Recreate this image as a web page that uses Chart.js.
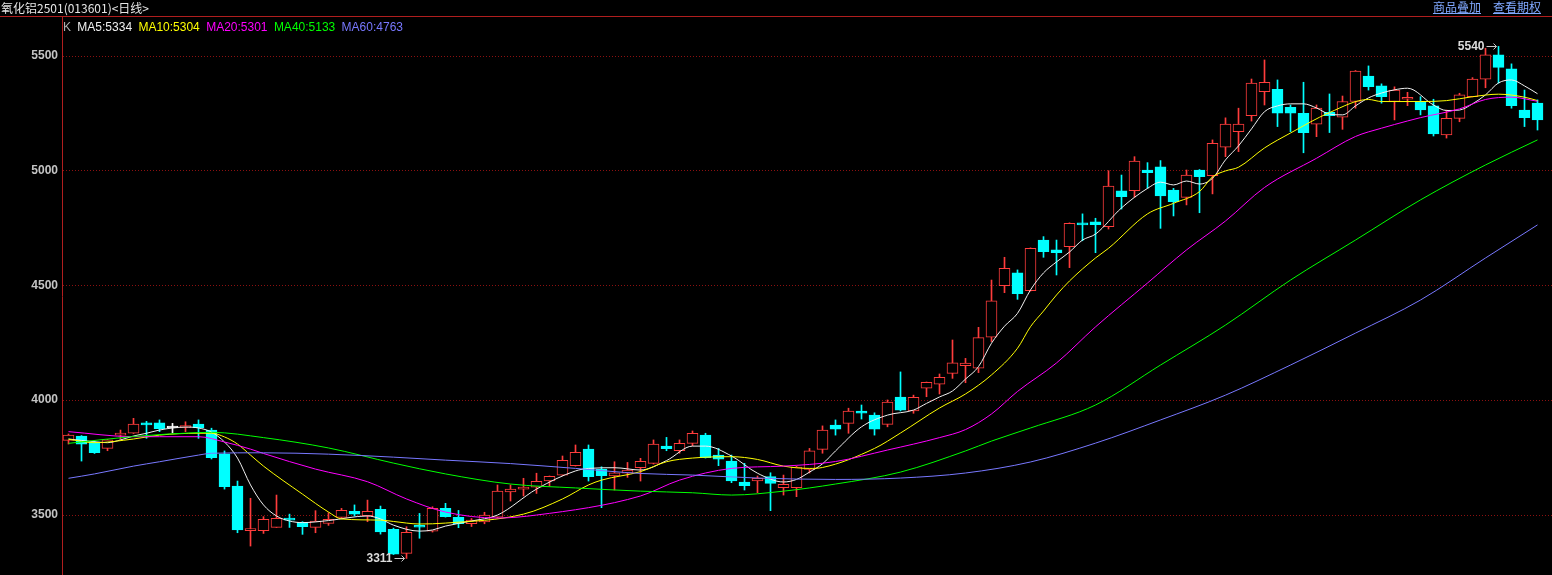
<!DOCTYPE html>
<html>
<head>
<meta charset="utf-8">
<script src="https://cdn.jsdelivr.net/npm/chart.js@4.4.0/dist/chart.umd.min.js"></script>
<style>
  html, body { margin: 0; padding: 0; background: #000; width: 1552px; height: 575px; overflow: hidden; }
  #wrap { position: relative; width: 1552px; height: 575px; }
  #kline { position: absolute; left: 0; top: 0; }
  .title { position: absolute; left: 1px; top: 0; font: 12px "Noto Sans CJK SC", sans-serif; color: #e6e6e6; line-height: 15px; white-space: nowrap; }
  .topline { position: absolute; left: 0; top: 16px; width: 1552px; height: 1px; background: #b01e1e; }
  .legend { position: absolute; left: 63px; top: 19px; font: 12px "Liberation Sans", Arial, sans-serif; line-height: 16px; white-space: nowrap; }
  .legend span { margin-right: 3px; }
  .links { position: absolute; right: 11px; top: 0; font: 12px "Noto Sans CJK SC", sans-serif; line-height: 14px; white-space: nowrap; }
  .links a { color: #80a8ff; text-decoration: underline; margin-left: 12px; }
</style>
</head>
<body>
<div id="wrap">
  <canvas id="kline" width="1552" height="575"></canvas>
  <div class="title">氧化铝2501(013601)&lt;日线&gt;</div>
  <div class="links"><a>商品叠加</a><a>查看期权</a></div>
  <div class="topline"></div>
  <div class="legend">
    <span style="color:#b0b0b0">K</span>
    <span style="color:#f0f0f0">MA5:5334</span>
    <span style="color:#ffff00">MA10:5304</span>
    <span style="color:#ff00ff">MA20:5301</span>
    <span style="color:#00ff00">MA40:5133</span>
    <span style="color:#7878ff">MA60:4763</span>
  </div>
</div>
<script>
// ── Daily bars ──────────────────────────────────────
const opens = [
  3825, 3844, 3819, 3790, 3848, 3856, 3901, 3901, 3879, 3881,
  3896, 3870, 3767, 3626, 3432, 3432, 3446, 3483, 3468, 3446,
  3464, 3490, 3516, 3497, 3525, 3438, 3333, 3452, 3430, 3529,
  3490, 3462, 3470, 3491, 3601, 3613, 3621, 3649, 3674, 3715,
  3787, 3700, 3670, 3682, 3706, 3725, 3800, 3780, 3812, 3848,
  3761, 3735, 3644, 3649, 3667, 3619, 3619, 3699, 3786, 3892,
  3899, 3953, 3935, 3895, 4014, 3953, 4052, 4070, 4117, 4150,
  4139, 4274, 4498, 4554, 4477, 4697, 4654, 4668, 4770, 4776,
  4755, 4911, 4912, 5002, 5016, 4915, 4883, 5002, 4977, 5101,
  5169, 5239, 5343, 5353, 5275, 5249, 5202, 5253, 5232, 5300,
  5411, 5368, 5300, 5310, 5300, 5281, 5155, 5227, 5321, 5397,
  5503, 5442, 5263, 5293
];
const highs = [
  3853, 3846, 3822, 3829, 3870, 3921, 3908, 3914, 3899, 3906,
  3914, 3878, 3779, 3648, 3573, 3493, 3587, 3504, 3471, 3519,
  3510, 3529, 3544, 3565, 3539, 3443, 3449, 3507, 3536, 3551,
  3520, 3485, 3512, 3631, 3631, 3660, 3682, 3670, 3757, 3805,
  3805, 3710, 3732, 3729, 3747, 3827, 3838, 3827, 3866, 3856,
  3790, 3761, 3725, 3670, 3684, 3674, 3713, 3790, 3888, 3914,
  3965, 3979, 3945, 4001, 4123, 4022, 4079, 4114, 4262, 4182,
  4317, 4523, 4622, 4567, 4663, 4712, 4697, 4772, 4811, 4792,
  4999, 4980, 5060, 5034, 5043, 4922, 5002, 5004, 5133, 5229,
  5271, 5398, 5481, 5394, 5285, 5384, 5285, 5333, 5324, 5435,
  5455, 5377, 5364, 5340, 5321, 5310, 5263, 5336, 5404, 5532,
  5540, 5464, 5350, 5307
];
const lows = [
  3809, 3735, 3768, 3780, 3830, 3855, 3834, 3863, 3858, 3863,
  3834, 3744, 3613, 3423, 3365, 3420, 3446, 3446, 3416, 3423,
  3455, 3486, 3497, 3471, 3417, 3328, 3311, 3399, 3426, 3491,
  3445, 3450, 3462, 3488, 3561, 3583, 3594, 3626, 3672, 3713,
  3648, 3532, 3609, 3664, 3648, 3722, 3780, 3769, 3802, 3748,
  3715, 3641, 3609, 3597, 3519, 3587, 3580, 3683, 3769, 3848,
  3856, 3918, 3848, 3884, 3953, 3943, 4015, 4027, 4095, 4076,
  4120, 4255, 4468, 4439, 4475, 4622, 4545, 4577, 4694, 4642,
  4745, 4832, 4883, 4922, 4748, 4802, 4850, 4816, 4898, 5060,
  5082, 5215, 5285, 5191, 5169, 5077, 5147, 5165, 5179, 5271,
  5350, 5293, 5220, 5282, 5242, 5150, 5141, 5212, 5320, 5360,
  5380, 5271, 5191, 5176
];
const closes = [
  3848, 3808, 3771, 3827, 3855, 3896, 3892, 3876, 3879, 3888,
  3880, 3750, 3623, 3435, 3436, 3481, 3486, 3478, 3449, 3474,
  3481, 3520, 3504, 3516, 3427, 3330, 3425, 3447, 3529, 3493,
  3462, 3478, 3500, 3604, 3613, 3622, 3647, 3668, 3738, 3773,
  3667, 3671, 3684, 3696, 3734, 3809, 3789, 3812, 3856, 3750,
  3743, 3648, 3628, 3660, 3638, 3634, 3709, 3779, 3870, 3874,
  3953, 3943, 3874, 3992, 3957, 4012, 4078, 4100, 4163, 4161,
  4272, 4432, 4574, 4464, 4661, 4646, 4642, 4770, 4763, 4764,
  4932, 4886, 5041, 4990, 4889, 4864, 4980, 4973, 5118, 5202,
  5202, 5380, 5384, 5249, 5249, 5165, 5271, 5239, 5300, 5433,
  5365, 5321, 5350, 5317, 5263, 5159, 5227, 5329, 5398, 5503,
  5449, 5282, 5230, 5220
];
const days = opens.map((_, i) => String(i + 1));

// ── Moving averages, [bar index, value] ──
const ma5 = [[0,3831],[2,3819],[3,3815],[4,3827],[5,3844],[6,3856],[7,3870],[8,3879],[9,3883],[10,3879],
  [11,3861],[12,3818],[13,3748],[14,3631],[15,3544],[16,3496],[17,3474],[18,3467],[20,3476],[23,3496],
  [24,3483],[25,3456],[27,3430],[28,3435],[29,3452],[31,3474],[33,3500],[36,3613],[39,3692],[40,3703],
  [42,3706],[44,3696],[46,3737],[48,3800],[49,3800],[51,3757],[53,3682],[55,3644],[56,3655],[57,3687],
  [58,3723],[59,3779],[61,3884],[63,3935],[65,3957],[66,3986],[67,4014],[68,4040],[69,4092],[70,4146],
  [71,4248],[72,4322],[73,4378],[74,4480],[75,4554],[76,4602],[77,4645],[78,4697],[79,4723],[81,4837],
  [83,4922],[84,4949],[85,4937],[86,4954],[87,4941],[88,4966],[89,5046],[90,5107],[91,5181],[92,5256],
  [93,5281],[94,5290],[95,5290],[96,5272],[97,5245],[98,5242],[99,5281],[100,5316],[101,5337],[102,5351],
  [103,5358],[105,5285],[106,5261],[107,5263],[108,5290],[109,5329],[110,5381],[111,5394],[112,5368],[113,5334]];
const ma10 = [[0,3830],[2,3815],[5,3831],[7,3848],[10,3856],[11,3856],[12,3840],[13,3809],[14,3761],[15,3713],
  [18,3591],[20,3513],[21,3483],[24,3478],[25,3472],[27,3461],[29,3465],[35,3504],[38,3570],[40,3631],
  [41,3652],[44,3689],[46,3732],[48,3748],[51,3754],[53,3742],[55,3713],[57,3703],[58,3707],[62,3790],
  [64,3857],[67,3966],[69,4027],[71,4110],[73,4226],[74,4320],[75,4388],[76,4458],[77,4519],[79,4619],
  [80,4661],[83,4811],[85,4857],[87,4908],[88,4972],[89,4998],[90,5014],[92,5098],[94,5163],[97,5252],
  [100,5309],[101,5300],[104,5300],[106,5304],[108,5321],[110,5332],[112,5319],[113,5304]];
const ma20 = [[0,3863],[5,3841],[7,3841],[10,3841],[12,3818],[14,3787],[15,3768],[19,3700],[23,3645],[26,3570],
  [29,3513],[33,3487],[36,3500],[44,3583],[47,3652],[51,3703],[55,3713],[59,3733],[63,3783],[67,3837],
  [69,3872],[71,3940],[73,4038],[76,4162],[79,4319],[83,4510],[86,4654],[89,4780],[92,4926],[96,5053],
  [99,5148],[101,5184],[102,5200],[104,5230],[107,5268],[109,5309],[111,5319],[113,5301]];
const ma40 = [[0,3812],[5,3842],[10,3859],[11,3860],[15,3837],[20,3792],[25,3726],[29,3679],[34,3635],[39,3618],
  [44,3604],[48,3597],[51,3587],[55,3604],[59,3635],[64,3687],[69,3779],[71,3822],[74,3879],[79,3979],
  [84,4153],[89,4327],[94,4523],[99,4697],[104,4872],[109,5024],[113,5133]];
const ma60 = [[0,3660],[2,3679],[5,3713],[7,3732],[10,3761],[11,3769],[15,3771],[20,3765],[25,3752],[29,3739],
  [34,3724],[39,3703],[44,3681],[48,3674],[53,3661],[59,3655],[64,3661],[69,3683],[74,3731],[79,3813],
  [84,3914],[89,4022],[94,4153],[99,4292],[104,4436],[109,4619],[113,4763]];

const yTicks = [3500, 4000, 4500, 5000, 5500];

// ── Colours ─────────────────────────────────────────
const UP = '#ff3c3c';
const DOWN = '#00ffff';
const FLAT = '#ffffff';
const GRID = '#8c1010';
const candleColors = opens.map((o, i) => closes[i] > o ? UP : closes[i] < o ? DOWN : FLAT);
const bodyFill = opens.map((o, i) => closes[i] > o ? '#000000' : candleColors[i]);

const maDefs = [
  { label: 'MA60', pts: ma60, color: '#7878ff' },
  { label: 'MA40', pts: ma40, color: '#00ff00' },
  { label: 'MA20', pts: ma20, color: '#ff00ff' },
  { label: 'MA10', pts: ma10, color: '#ffff00' },
  { label: 'MA5',  pts: ma5,  color: '#f0f0f0' }
];

// ── Dotted price grid, running to the right edge ────
const priceGrid = {
  id: 'priceGrid',
  beforeDatasetsDraw(chart) {
    const { ctx, chartArea, scales: { y } } = chart;
    ctx.save();
    ctx.strokeStyle = GRID;
    ctx.lineWidth = 1;
    ctx.setLineDash([1, 2]);
    yTicks.forEach(v => {
      const py = Math.round(y.getPixelForValue(v)) + 0.5;
      ctx.beginPath();
      ctx.moveTo(chartArea.left + 1, py);
      ctx.lineTo(chart.width, py);
      ctx.stroke();
    });
    ctx.restore();
  }
};

// ── High / low markers ("5540→", "3311→") ───────────
const extremeMarks = {
  id: 'extremeMarks',
  afterDatasetsDraw(chart) {
    const { ctx, scales: { x, y } } = chart;
    const hiVal = Math.max(...highs), loVal = Math.min(...lows);
    const marks = [
      { i: highs.indexOf(hiVal), v: hiVal },
      { i: lows.indexOf(loVal), v: loVal }
    ];
    ctx.save();
    marks.forEach(m => {
      const px = x.getPixelForValue(m.i);
      const py = Math.round(y.getPixelForValue(m.v)) + 0.5;
      ctx.strokeStyle = '#c8c8c8';
      ctx.lineWidth = 1;
      ctx.beginPath();
      ctx.moveTo(px - 12, py); ctx.lineTo(px - 2, py);
      ctx.moveTo(px - 5, py - 3); ctx.lineTo(px - 2, py); ctx.lineTo(px - 5, py + 3);
      ctx.stroke();
      ctx.fillStyle = '#dcdcdc';
      ctx.font = 'bold 12px "Liberation Sans", Arial, sans-serif';
      ctx.textAlign = 'right';
      ctx.textBaseline = 'middle';
      ctx.fillText(String(m.v), px - 14, py);
    });
    ctx.restore();
  }
};

new Chart(document.getElementById('kline'), {
  data: {
    labels: days,
    datasets: [
      {
        type: 'bar', label: 'wick',
        data: lows.map((l, i) => [l, highs[i]]),
        backgroundColor: candleColors,
        barThickness: 1, grouped: false, order: 3
      },
      {
        type: 'bar', label: 'body',
        data: opens.map((o, i) => [o, closes[i]]),
        backgroundColor: bodyFill,
        borderColor: candleColors,
        borderWidth: 1, borderSkipped: false,
        barThickness: 11, minBarLength: 2, grouped: false, order: 2
      },
      ...maDefs.map(d => ({
        type: 'line', label: d.label,
        data: d.pts.map(([i, v]) => ({ x: days[i], y: v })),
        borderColor: d.color, borderWidth: 1,
        pointRadius: 0, spanGaps: true,
        cubicInterpolationMode: 'monotone', order: 1
      }))
    ]
  },
  options: {
    responsive: false,
    animation: false,
    devicePixelRatio: 1,
    layout: { padding: { top: 17, right: 8, bottom: 0, left: 0 } },
    plugins: { legend: { display: false }, tooltip: { enabled: false } },
    scales: {
      x: { type: 'category', offset: true, display: false },
      y: {
        min: 3239, max: 5668,
        afterFit(s) { s.width = 62; s.paddingTop = 0; s.paddingBottom = 0; },
        afterBuildTicks(s) { s.ticks = yTicks.map(v => ({ value: v })); },
        ticks: {
          color: '#c4c4c4', padding: 4,
          font: { family: '"Liberation Sans", Arial, sans-serif', size: 12, weight: 'bold' },
          callback: v => String(v)
        },
        grid: { display: false, drawTicks: false },
        border: { color: '#b01e1e' }
      }
    }
  },
  plugins: [priceGrid, extremeMarks]
});
</script>
</body>
</html>
